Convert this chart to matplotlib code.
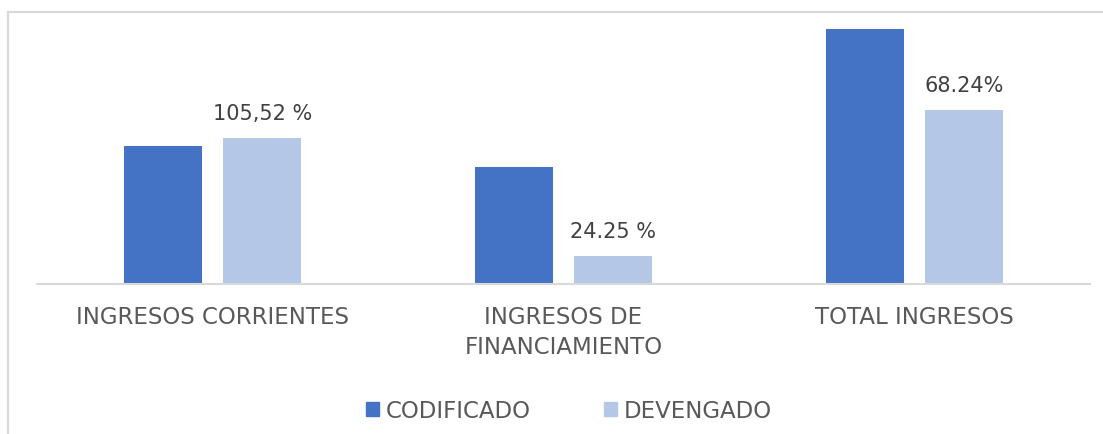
import matplotlib
matplotlib.use("Agg")
import matplotlib.pyplot as plt
from matplotlib.lines import Line2D
from matplotlib.patches import Patch
import numpy as np

categories = ["INGRESOS CORRIENTES", "INGRESOS DE\nFINANCIAMIENTO", "TOTAL INGRESOS"]
series_names = ["CODIFICADO", "DEVENGADO"]
codificado = [138, 117, 255]
devengado = [146, 28, 174]
labels_devengado = ["105,52 %", "24.25 %", "68.24%"]

plt.rcParams['font.family'] = ['DejaVu Sans']

W, H = 1103, 435
fig = plt.figure(figsize=(W / 100, H / 100), dpi=100)

# outer frame
fig.add_artist(Line2D([8 / W, 8 / W], [0, 1 - 13 / H], transform=fig.transFigure, color="#d9d9d9", lw=1.5))
fig.add_artist(Line2D([8 / W, 1], [1 - 13 / H, 1 - 13 / H], transform=fig.transFigure, color="#d9d9d9", lw=1.5))

left, right = 37 / W, 1090 / W
bottom, top = 1 - 285 / H, 1 - 20 / H
ax = fig.add_axes([left, bottom, right - left, top - bottom])

x = np.arange(len(categories))
bw = 0.222
off = 0.142
c1, c2 = "#4472c4", "#b4c7e7"
ax.bar(x - off, codificado, bw, color=c1)
b2 = ax.bar(x + off, devengado, bw, color=c2)

for rect, lab in zip(b2, labels_devengado):
    ax.text(rect.get_x() + rect.get_width() / 2, rect.get_height() + 15, lab,
            ha="center", va="bottom", fontsize=15, color="#404040")

ax.set_xlim(-0.5, 2.5)
ax.set_ylim(0, 265)
for s in ["top", "right", "left"]:
    ax.spines[s].set_visible(False)
ax.spines["bottom"].set_color("#d9d9d9")
ax.spines["bottom"].set_linewidth(1.5)
ax.set_yticks([])
ax.set_xticks(x)
ax.set_xticklabels(categories, fontsize=16.5, color="#595959", linespacing=1.4)
ax.tick_params(axis="x", length=0, pad=15)

handles = [Patch(color=c1), Patch(color=c2)]
fig.legend(handles, series_names, loc="center", bbox_to_anchor=(0.516, 1 - 412 / H),
           ncol=2, frameon=False, fontsize=16.5, labelcolor="#595959",
           handlelength=0.55, handleheight=0.55, handletextpad=0.3, columnspacing=3.2)

fig.savefig("out.png", dpi=100)
